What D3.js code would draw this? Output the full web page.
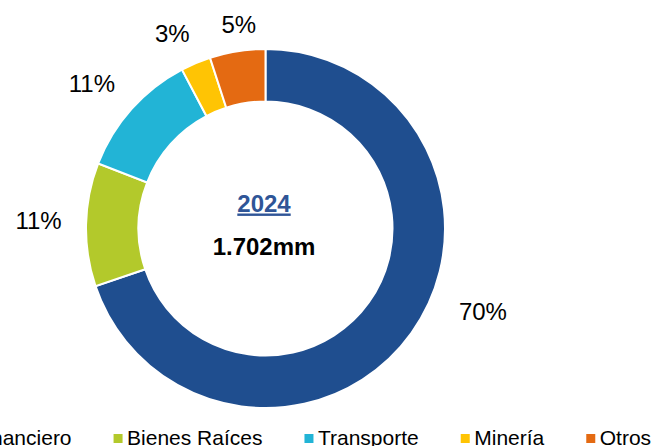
<!DOCTYPE html>
<html>
<head>
<meta charset="utf-8">
<script src="https://cdn.jsdelivr.net/npm/d3@7"></script>
<style>
  html, body { margin: 0; padding: 0; background: #fff; overflow: hidden; }
  svg { display: block; font-family: Arial, "Liberation Sans", sans-serif; }
</style>
</head>
<body>
<div class="chart"></div>
<script>
const sectors = ['Financiero', 'Bienes Raíces', 'Transporte', 'Minería', 'Otros'];
const shares = [69.8, 11.1, 11.4, 2.7, 5.0];
const sectorColors = ['#1f4e8f', '#b3c92b', '#22b4d6', '#ffc404', '#e46a12'];
const year = '2024';
const total = '1.702mm';

// hand-placed label offsets (px) from the plain centroid, like the original
const labelNudge = [[37, -46], [-5, -3], [-8, 3], [-7, 10], [8, 15]];

const chartWidth = 656;
const chartHeight = 446;
const cx = 265.5;
const cy = 228.5;
const outerRadius = 179.5;
const innerRadius = 127;

const svg = d3.select('.chart')
  .append('svg')
  .attr('width', chartWidth)
  .attr('height', chartHeight);

const g = svg.append('g')
  .attr('transform', `translate(${cx}, ${cy})`);

const pie = d3.pie()
  .sort(null)
  .value(d => d);

const arc = d3.arc()
  .innerRadius(innerRadius)
  .outerRadius(outerRadius);

const labelArc = d3.arc()
  .innerRadius(222)
  .outerRadius(222);

const arcs = pie(shares);

g.selectAll('path')
  .data(arcs)
  .enter()
  .append('path')
  .attr('d', arc)
  .attr('fill', (d, i) => sectorColors[i])
  .attr('stroke', '#fff')
  .attr('stroke-width', 2);

g.selectAll('text.pct')
  .data(arcs)
  .enter()
  .append('text')
  .attr('class', 'pct')
  .attr('x', (d, i) => labelArc.centroid(d)[0] + labelNudge[i][0])
  .attr('y', (d, i) => labelArc.centroid(d)[1] + labelNudge[i][1])
  .attr('dy', '0.35em')
  .attr('text-anchor', 'middle')
  .attr('font-size', '24px')
  .attr('fill', '#000')
  .text(d => `${Math.round(d.data)}%`);

// center text
g.append('text')
  .attr('x', -1.5)
  .attr('y', -17)
  .attr('text-anchor', 'middle')
  .attr('font-size', '24px')
  .attr('font-weight', 'bold')
  .attr('fill', '#2f5597')
  .attr('text-decoration', 'underline')
  .text(year);

g.append('text')
  .attr('x', -1.5)
  .attr('y', 26.5)
  .attr('text-anchor', 'middle')
  .attr('font-size', '24px')
  .attr('font-weight', 'bold')
  .attr('fill', '#000')
  .text(total);

// legend, flows left to right, first entry runs off the left edge
const legend = svg.append('g')
  .attr('transform', 'translate(-40, 0)');

let lx = 0;
sectors.forEach((name, i) => {
  legend.append('rect')
    .attr('x', lx)
    .attr('y', 434)
    .attr('width', 9)
    .attr('height', 9)
    .attr('fill', sectorColors[i]);
  const t = legend.append('text')
    .attr('x', lx + 13.5)
    .attr('y', 444.5)
    .attr('font-size', '21px')
    .attr('fill', '#000')
    .text(name);
  lx += 13.5 + t.node().getComputedTextLength() + 42;
});
</script>
</body>
</html>
